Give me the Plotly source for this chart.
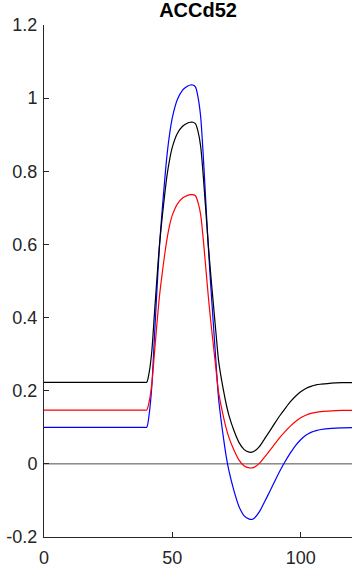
import plotly.graph_objects as go

# time samples (x)
t = [0, 20, 36, 39, 40, 41, 42, 43, 44, 45, 46, 47, 48, 49, 50, 52, 54, 56, 57, 58, 59, 60,
     61, 62, 63, 64, 65, 66, 67, 68, 69, 70, 71, 72, 74, 76, 78, 80, 81, 82, 84,
     86, 88, 90, 92, 94, 96, 98, 100, 102, 104, 106, 108, 112, 116, 120]

blue_y = [0.100, 0.100, 0.100, 0.100, 0.100, 0.137, 0.212, 0.343, 0.474, 0.596, 0.690, 0.774, 0.849, 0.905,
          0.947, 0.997, 1.022, 1.033, 1.036, 1.036, 1.031, 1.003,
          0.952, 0.849, 0.722, 0.596, 0.484, 0.381, 0.278, 0.180, 0.119, 0.067, 0.020,
          -0.017, -0.073, -0.117, -0.142, -0.151, -0.152, -0.148, -0.130,
          -0.103, -0.075, -0.046, -0.018, 0.007, 0.030, 0.050, 0.066, 0.078, 0.086,
          0.091, 0.094, 0.097, 0.0985, 0.099]

black_y = [0.223, 0.223, 0.223, 0.223, 0.223, 0.251, 0.308, 0.408, 0.507, 0.600, 0.671, 0.735, 0.792, 0.834,
           0.866, 0.904, 0.923, 0.932, 0.934, 0.934, 0.930, 0.909,
           0.870, 0.792, 0.696, 0.600, 0.515, 0.436, 0.358, 0.283, 0.237, 0.198, 0.163,
           0.134, 0.091, 0.058, 0.039, 0.032, 0.032, 0.035, 0.048,
           0.069, 0.090, 0.112, 0.133, 0.152, 0.170, 0.185, 0.197, 0.206, 0.212,
           0.216, 0.218, 0.221, 0.222, 0.222]

red_y = [0.147, 0.147, 0.147, 0.147, 0.147, 0.171, 0.218, 0.300, 0.383, 0.459, 0.518, 0.571, 0.618, 0.654,
         0.680, 0.711, 0.727, 0.734, 0.736, 0.736, 0.733, 0.715,
         0.683, 0.618, 0.539, 0.459, 0.388, 0.324, 0.259, 0.197, 0.159, 0.126, 0.097,
         0.073, 0.038, 0.010, -0.006, -0.011, -0.011, -0.009, 0.002,
         0.019, 0.037, 0.055, 0.073, 0.089, 0.103, 0.116, 0.126, 0.133, 0.138,
         0.141, 0.143, 0.145, 0.146, 0.146]

zero_x = [0, 120]
zero_y = [0, 0]

x_ticks = [0, 50, 100]
y_ticks = [-0.2, 0, 0.2, 0.4, 0.6, 0.8, 1, 1.2]
y_tick_labels = ["-0.2", "0", "0.2", "0.4", "0.6", "0.8", "1", "1.2"]

fig = go.Figure()
fig.add_trace(go.Scatter(x=zero_x, y=zero_y, mode="lines",
                         line=dict(color="#4d4d4d", width=1), hoverinfo="skip"))
for ys, col in [(blue_y, "#0000ff"), (red_y, "#ff0000"), (black_y, "#000000")]:
    fig.add_trace(go.Scatter(x=t, y=ys, mode="lines",
                             line=dict(color=col, width=1.2, shape="spline", smoothing=0.8)))

axis_font = dict(family="Liberation Sans, Arial, sans-serif", size=18, color="#262626")

fig.update_layout(
    width=353, height=569,
    margin=dict(l=44, r=1, t=25, b=32),
    paper_bgcolor="white", plot_bgcolor="white",
    showlegend=False,
    title=dict(text="<b>ACCd52</b>", x=0.561, xanchor="center", yref="container",
               y=0.982, yanchor="middle",
               font=dict(family="Liberation Sans, Arial, sans-serif", size=20, color="black")),
    xaxis=dict(range=[0, 120], tickvals=x_ticks, ticktext=[str(v) for v in x_ticks],
               showgrid=False, zeroline=False, showline=True, linecolor="#262626",
               linewidth=1, ticks="inside", ticklen=5, tickcolor="#262626",
               tickfont=axis_font, ticklabelstandoff=4),
    yaxis=dict(range=[-0.2, 1.2], tickvals=y_ticks, ticktext=y_tick_labels,
               showgrid=False, zeroline=False, showline=True, linecolor="#262626",
               linewidth=1, ticks="inside", ticklen=5, tickcolor="#262626",
               tickfont=axis_font, ticklabelstandoff=2),
)

fig.write_html("out.html")
